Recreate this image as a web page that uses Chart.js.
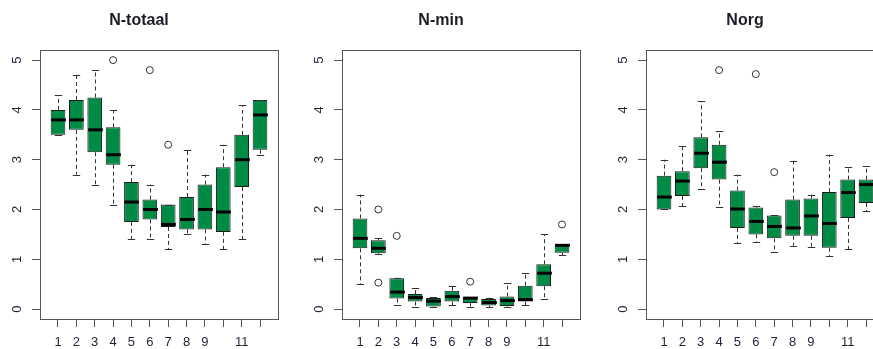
<!DOCTYPE html>
<html>
<head>
<meta charset="utf-8">
<script src="https://cdn.jsdelivr.net/npm/chart.js@4.4.1/dist/chart.umd.min.js"></script>
<style>
  body { margin: 0; background: #fff; width: 873px; height: 349px; overflow: hidden; position: relative; }
  canvas { position: absolute; top: 0; }
</style>
</head>
<body>
<canvas id="grafiekNtot" width="318" height="349" style="left:0px"></canvas>
<canvas id="grafiekNmin" width="318" height="349" style="left:302px"></canvas>
<canvas id="grafiekNorg" width="318" height="349" style="left:606px"></canvas>
<script>
// maanden en aslabels
var maanden = [1, 2, 3, 4, 5, 6, 7, 8, 9, 10, 11, 12];
var xTickLabels = ['1', '2', '3', '4', '5', '6', '7', '8', '9', '', '11', ''];
var yTicks = [0, 1, 2, 3, 4, 5];

// N-totaal
var ntotMin = [3.5, 2.7, 2.5, 2.1, 1.4, 1.4, 1.2, 1.5, 1.3, 1.2, 1.4, 3.1];
var ntotQ1  = [3.5, 3.6, 3.15, 2.9, 1.75, 1.8, 1.65, 1.6, 1.6, 1.55, 2.45, 3.2];
var ntotMed = [3.8, 3.8, 3.6, 3.1, 2.15, 2.0, 1.7, 1.8, 2.0, 1.95, 3.0, 3.9];
var ntotQ3  = [4.0, 4.2, 4.25, 3.65, 2.55, 2.2, 2.1, 2.25, 2.5, 2.85, 3.5, 4.2];
var ntotMax = [4.3, 4.7, 4.8, 4.0, 2.9, 2.5, 2.1, 3.2, 2.7, 3.3, 4.1, 4.2];
var ntotUitMaand  = [4, 6, 7];
var ntotUitWaarde = [5.0, 4.8, 3.3];

// N-min
var nminMin = [0.5, 1.1, 0.08, 0.05, 0.04, 0.08, 0.05, 0.04, 0.05, 0.08, 0.2, 1.08];
var nminQ1  = [1.22, 1.12, 0.21, 0.15, 0.05, 0.15, 0.12, 0.07, 0.06, 0.15, 0.46, 1.13];
var nminMed = [1.42, 1.22, 0.34, 0.23, 0.16, 0.25, 0.22, 0.13, 0.17, 0.19, 0.72, 1.28];
var nminQ3  = [1.82, 1.38, 0.62, 0.3, 0.22, 0.37, 0.23, 0.2, 0.25, 0.47, 0.9, 1.3];
var nminMax = [2.3, 1.42, 0.63, 0.43, 0.24, 0.47, 0.23, 0.23, 0.52, 0.73, 1.5, 1.3];
var nminUitMaand  = [2, 2, 3, 7, 12];
var nminUitWaarde = [2.0, 0.53, 1.47, 0.55, 1.7];

// Norg
var norgMin = [2.0, 2.07, 2.42, 2.06, 1.33, 1.35, 1.14, 1.27, 1.25, 1.07, 1.2, 1.96];
var norgQ1  = [2.0, 2.27, 2.83, 2.6, 1.63, 1.5, 1.42, 1.47, 1.47, 1.23, 1.83, 2.13];
var norgMed = [2.25, 2.57, 3.13, 2.95, 2.01, 1.76, 1.66, 1.63, 1.87, 1.72, 2.34, 2.5];
var norgQ3  = [2.68, 2.77, 3.45, 3.3, 2.38, 2.04, 1.88, 2.2, 2.22, 2.35, 2.6, 2.6];
var norgMax = [3.0, 3.28, 4.18, 3.57, 2.7, 2.07, 1.88, 2.98, 2.3, 3.1, 2.85, 2.88];
var norgUitMaand  = [4, 6, 7];
var norgUitWaarde = [4.8, 4.72, 2.75];

Chart.defaults.font.family = '"Liberation Sans", Arial, sans-serif';
Chart.defaults.color = '#222';

// tekent kader, snorharen en medianen met de schalen van de grafiek
var boxplotPlugin = {
  id: 'boxplotExtra',
  afterDatasetsDraw: function(chart) {
    var ctx = chart.ctx;
    var a = chart.chartArea;
    var xs = chart.scales.x, ys = chart.scales.y;
    var st = chart.options.plugins.boxplotExtra;
    var boxW = (xs.getPixelForValue(1) - xs.getPixelForValue(0)) * 0.8;
    ctx.save();
    for (var i = 0; i < maanden.length; i++) {
      var x = Math.round(xs.getPixelForValue(maanden[i])) + 0.5;
      // snorharen
      ctx.strokeStyle = '#333';
      ctx.lineWidth = 1;
      ctx.setLineDash([4, 3]);
      ctx.beginPath();
      ctx.moveTo(x, ys.getPixelForValue(st.q3[i]));
      ctx.lineTo(x, ys.getPixelForValue(st.max[i]));
      ctx.moveTo(x, ys.getPixelForValue(st.q1[i]));
      ctx.lineTo(x, ys.getPixelForValue(st.min[i]));
      ctx.stroke();
      ctx.setLineDash([]);
      ctx.beginPath();
      var yMax = Math.round(ys.getPixelForValue(st.max[i])) + 0.5;
      var yMin = Math.round(ys.getPixelForValue(st.min[i])) + 0.5;
      ctx.moveTo(x - boxW / 4, yMax);
      ctx.lineTo(x + boxW / 4, yMax);
      ctx.moveTo(x - boxW / 4, yMin);
      ctx.lineTo(x + boxW / 4, yMin);
      ctx.stroke();
      // mediaan
      ctx.strokeStyle = '#000';
      ctx.lineWidth = 3;
      ctx.beginPath();
      var yMed = ys.getPixelForValue(st.med[i]);
      ctx.moveTo(x - boxW / 2, yMed);
      ctx.lineTo(x + boxW / 2, yMed);
      ctx.stroke();
    }
    // kader
    ctx.strokeStyle = '#555';
    ctx.lineWidth = 1;
    ctx.strokeRect(Math.round(a.left) + 0.5, Math.round(a.top) + 0.5,
                   Math.round(a.right - a.left), Math.round(a.bottom - a.top));
    ctx.restore();
  }
};

function maakBoxplot(id, titel, mn, q1, med, q3, mx, uitMaand, uitWaarde) {
  var ctx = document.getElementById(id).getContext('2d');
  var boxData = maanden.map(function(m, i) { return { x: m, y: [q1[i], q3[i]] }; });
  var uitData = uitMaand.map(function(m, i) { return { x: m, y: uitWaarde[i] }; });
  return new Chart(ctx, {
    type: 'bar',
    data: {
      datasets: [{
        label: titel,
        data: boxData,
        backgroundColor: '#008B45',
        borderColor: '#1a1a1a',
        borderWidth: 1,
        borderSkipped: false,
        barPercentage: 0.8,
        categoryPercentage: 1.0
      }, {
        type: 'scatter',
        label: 'uitschieters',
        data: uitData,
        pointStyle: 'circle',
        pointRadius: 3.5,
        pointBorderColor: '#333',
        pointBackgroundColor: 'rgba(0,0,0,0)',
        pointBorderWidth: 1
      }]
    },
    options: {
      responsive: false,
      animation: false,
      layout: { padding: { left: 0, right: 40, top: 0, bottom: 0 } },
      plugins: {
        legend: { display: false },
        tooltip: { enabled: false },
        title: {
          display: true,
          text: titel,
          color: '#1c1c28',
          font: { size: 16, weight: 'bold' },
          padding: { top: 11, bottom: 20 }
        },
        boxplotExtra: { min: mn, q1: q1, med: med, q3: q3, max: mx }
      },
      scales: {
        x: {
          type: 'linear',
          min: 0.02,
          max: 12.98,
          offset: false,
          grid: { drawOnChartArea: false, drawTicks: true, tickLength: 8, color: '#555', offset: false },
          border: { display: false },
          afterBuildTicks: function(scale) { scale.ticks = maanden.map(function(v) { return { value: v }; }); },
          afterFit: function(scale) { scale.height = 30; },
          ticks: {
            autoSkip: false,
            maxRotation: 0,
            padding: 8,
            font: { size: 13 },
            color: '#1c2438',
            callback: function(value, index) { return xTickLabels[index]; }
          }
        },
        y: {
          min: -0.2,
          max: 5.2,
          grid: { drawOnChartArea: false, drawTicks: true, tickLength: 8, color: '#555' },
          border: { display: false },
          afterBuildTicks: function(scale) { scale.ticks = yTicks.map(function(v) { return { value: v }; }); },
          afterFit: function(scale) { scale.width = 40; },
          ticks: {
            minRotation: 90,
            maxRotation: 90,
            crossAlign: 'center',
            padding: 11,
            font: { size: 13 },
            color: '#1c2438'
          }
        }
      }
    },
    plugins: [boxplotPlugin]
  });
}

var grafiekNtot = maakBoxplot('grafiekNtot', 'N-totaal', ntotMin, ntotQ1, ntotMed, ntotQ3, ntotMax, ntotUitMaand, ntotUitWaarde);
var grafiekNmin = maakBoxplot('grafiekNmin', 'N-min', nminMin, nminQ1, nminMed, nminQ3, nminMax, nminUitMaand, nminUitWaarde);
var grafiekNorg = maakBoxplot('grafiekNorg', 'Norg', norgMin, norgQ1, norgMed, norgQ3, norgMax, norgUitMaand, norgUitWaarde);
</script>
</body>
</html>
